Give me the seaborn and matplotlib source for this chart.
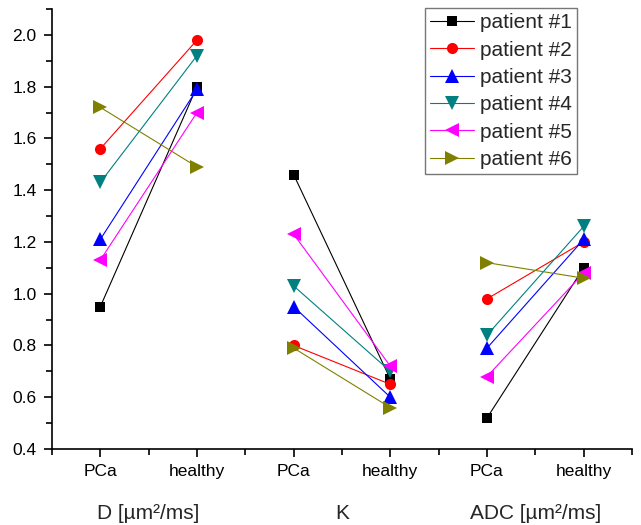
import numpy as np
import pandas as pd
import seaborn as sns
import matplotlib.pyplot as plt
from matplotlib.ticker import MultipleLocator
from matplotlib.transforms import blended_transform_factory

plt.switch_backend("Agg")

# values
patients = ["patient #1", "patient #2", "patient #3", "patient #4", "patient #5", "patient #6"]
groups = ["D [µm²/ms]", "K", "ADC [µm²/ms]"]
conditions = ["PCa", "healthy"]

D_pca = [0.95, 1.56, 1.21, 1.43, 1.13, 1.72]
D_healthy = [1.80, 1.98, 1.79, 1.92, 1.70, 1.49]
K_pca = [1.46, 0.80, 0.95, 1.03, 1.23, 0.79]
K_healthy = [0.67, 0.65, 0.60, 0.70, 0.72, 0.56]
ADC_pca = [0.52, 0.98, 0.79, 0.84, 0.68, 1.12]
ADC_healthy = [1.10, 1.20, 1.21, 1.26, 1.08, 1.06]

colors = ["#000000", "#FF0000", "#0000FF", "#008080", "#FF00FF", "#808000"]
marker_list = ["s", "o", "^", "v", "<", ">"]

values = {
    groups[0]: (D_pca, D_healthy),
    groups[1]: (K_pca, K_healthy),
    groups[2]: (ADC_pca, ADC_healthy),
}

# long table: one row per patient / group / condition
rows = []
for gi, g in enumerate(groups):
    pca, healthy = values[g]
    for pi, p in enumerate(patients):
        rows.append({"patient": p, "group": g, "pos": 2 * gi + 1, "value": pca[pi]})
        rows.append({"patient": p, "group": g, "pos": 2 * gi + 2, "value": healthy[pi]})
df = pd.DataFrame(rows)

sns.set_style("ticks")
plt.rcParams["font.family"] = ["Liberation Sans", "DejaVu Sans"]

fig = plt.figure(figsize=(6.41, 5.25), dpi=100)
ax = fig.add_axes([52 / 641, 1 - 449 / 525, 580 / 641, 440 / 525])

palette = dict(zip(patients, colors))
markers = dict(zip(patients, marker_list))

for g in groups:
    sub = df[df["group"] == g]
    sns.lineplot(data=sub, x="pos", y="value", hue="patient", style="patient",
                 hue_order=patients, style_order=patients,
                 palette=palette, markers=markers, dashes=False,
                 linewidth=0.8, markersize=9.5, markeredgewidth=0,
                 legend=False, ax=ax)

# squares and circles look a bit smaller in the reference
for line in ax.lines:
    if line.get_marker() == "s":
        line.set_markersize(7)
    elif line.get_marker() == "o":
        line.set_markersize(8)

ax.set_xlim(0.5, 6.5)
ax.set_ylim(0.4, 2.1)
ax.set_xticks(range(1, 7))
ax.set_xticklabels(conditions * 3)
ax.set_xticks(np.arange(0.5, 6.6, 1.0), minor=True)
ax.yaxis.set_major_locator(MultipleLocator(0.2))
ax.yaxis.set_minor_locator(MultipleLocator(0.1))
ax.yaxis.set_major_formatter(plt.FormatStrFormatter("%.1f"))
ax.set_xlabel("")
ax.set_ylabel("")

ax.tick_params(axis="both", which="major", direction="out", length=6, width=1.2,
               labelsize=12.5, color="black", labelcolor="black", pad=5)
ax.tick_params(axis="both", which="minor", direction="out", length=4, width=1.2,
               color="black")
for side in ["top", "right"]:
    ax.spines[side].set_visible(False)
for side in ["left", "bottom"]:
    ax.spines[side].set_linewidth(1.2)
    ax.spines[side].set_color("black")

# group labels under the tick labels
trans = blended_transform_factory(ax.transData, ax.transAxes)
for gi, g in enumerate(groups):
    ax.text(2 * gi + 1.5, -0.147, g, transform=trans, ha="center", va="center",
            fontsize=15)

leg = ax.legend(handles=ax.lines[:6], labels=patients, loc="upper right",
                bbox_to_anchor=(525 / 580, 441 / 440), fontsize=15,
                frameon=True, fancybox=False, borderpad=0.25,
                labelspacing=0.4, handlelength=2.1, handletextpad=0.3,
                borderaxespad=0)
leg.get_frame().set_edgecolor("#555555")
leg.get_frame().set_linewidth(1.0)

plt.savefig("out.png", dpi=100)
